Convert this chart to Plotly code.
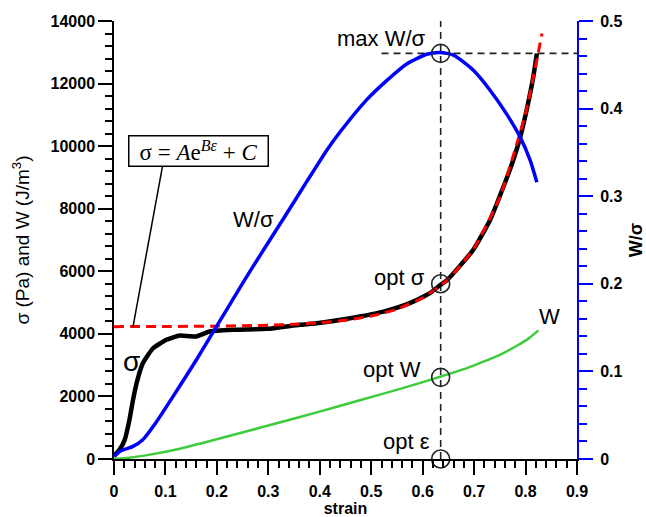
import plotly.graph_objects as go

# ---- data ----
strain_sigma = [0.0, 0.011, 0.021, 0.030, 0.037, 0.044, 0.056, 0.076, 0.102, 0.128, 0.147, 0.160,
                0.186, 0.232, 0.297, 0.361, 0.394, 0.459, 0.524, 0.575, 0.614, 0.634, 0.647,
                0.698, 0.731, 0.757, 0.776, 0.789, 0.802, 0.815, 0.822]
sigma = [100, 300, 620, 1250, 1890, 2430, 3060, 3540, 3810, 3950, 3925, 3915,
         4075, 4130, 4160, 4290, 4340, 4500, 4710, 4980, 5300, 5560, 5710,
         6680, 7640, 8700, 9550, 10250, 11150, 12210, 12960]

strain_fit = [0.0, 0.1, 0.2, 0.3, 0.35, 0.4, 0.45, 0.5, 0.55, 0.6, 0.65, 0.7, 0.75, 0.8, 0.832]
sigma_fit = [4230, 4236, 4247, 4276, 4305, 4355, 4436, 4570, 4790, 5150, 5750, 6740, 8370, 11050, 13600]

strain_ws = [0.0, 0.012, 0.037, 0.056, 0.082, 0.121, 0.160, 0.199, 0.232, 0.264, 0.329, 0.374,
             0.413, 0.439, 0.491, 0.530, 0.569, 0.608, 0.634, 0.660, 0.698, 0.731, 0.763,
             0.789, 0.809, 0.822]
w_over_sigma = [0.003, 0.009, 0.0144, 0.022, 0.042, 0.077, 0.113, 0.151, 0.183, 0.214, 0.274, 0.316,
                0.352, 0.373, 0.410, 0.432, 0.451, 0.462, 0.464, 0.461, 0.444, 0.421, 0.394,
                0.368, 0.341, 0.316]

strain_w = [0.0, 0.03, 0.07, 0.128, 0.167, 0.264, 0.329, 0.394, 0.459, 0.524, 0.589, 0.634,
            0.686, 0.718, 0.75, 0.783, 0.805, 0.825]
work = [0, 40, 140, 330, 490, 910, 1200, 1490, 1790, 2090, 2400, 2630,
        2905, 3110, 3330, 3620, 3840, 4110]

opt_strain = 0.635
opt_sigma = 5600
opt_w = 2610
max_ws = 0.463

x_ticks = [0, 0.1, 0.2, 0.3, 0.4, 0.5, 0.6, 0.7, 0.8, 0.9]
y_ticks = [0, 2000, 4000, 6000, 8000, 10000, 12000, 14000]
y2_ticks = [0, 0.1, 0.2, 0.3, 0.4, 0.5]

FONT = "Arial, Liberation Sans, sans-serif"
SERIF = "Times New Roman, Liberation Serif, serif"
DASH_COL = "#222222"

fig = go.Figure()

fig.add_trace(go.Scatter(x=strain_sigma, y=sigma, mode="lines",
                         line=dict(color="black", width=4.5, shape="spline", smoothing=0.5),
                         showlegend=False))
fig.add_trace(go.Scatter(x=strain_fit, y=sigma_fit, mode="lines",
                         line=dict(color="#ff0000", width=3, dash="10px,6px", shape="spline", smoothing=0.5),
                         showlegend=False))
fig.add_trace(go.Scatter(x=strain_w, y=work, mode="lines",
                         line=dict(color="#3ccc3c", width=2.5, shape="spline", smoothing=0.6),
                         showlegend=False))
fig.add_trace(go.Scatter(x=strain_ws, y=w_over_sigma, mode="lines", yaxis="y2",
                         line=dict(color="#0000ff", width=3.5, shape="spline", smoothing=0.6),
                         showlegend=False))

marker_style = dict(symbol="circle-open", size=18, color=DASH_COL, line=dict(width=1.6, color=DASH_COL))
fig.add_trace(go.Scatter(x=[opt_strain, opt_strain, opt_strain], y=[opt_sigma, opt_w, 0],
                         mode="markers", marker=marker_style, cliponaxis=False, showlegend=False))
fig.add_trace(go.Scatter(x=[opt_strain], y=[max_ws], yaxis="y2",
                         mode="markers", marker=marker_style, cliponaxis=False, showlegend=False))

# dashed guide lines
fig.add_shape(type="line", xref="x", yref="y", x0=opt_strain, x1=opt_strain, y0=0, y1=14000,
              line=dict(color=DASH_COL, width=1.6, dash="7px,5px"), layer="below")
fig.add_shape(type="line", xref="x", yref="y2", x0=0.52, x1=0.9, y0=max_ws, y1=max_ws,
              line=dict(color=DASH_COL, width=1.6, dash="7px,5px"), layer="below")
# leader line from formula box
fig.add_shape(type="line", xref="x", yref="y", x0=0.0947, y0=9393, x1=0.037, y1=4230,
              line=dict(color="black", width=1.5))

def label(text, x, y, size=22, xanchor="center", yref="y", font=FONT):
    fig.add_annotation(text=text, x=x, y=y, xref="x", yref=yref, showarrow=False,
                       xanchor=xanchor, yanchor="middle",
                       font=dict(family=font, size=size, color="black"))

label("max W/σ", 0.520, 13440)
label("opt σ", 0.608, 5787, xanchor="right")
label("opt W", 0.6006, 2850, xanchor="right")
label("opt ε", 0.6175, 562, xanchor="right")
label("W", 0.8457, 4551)
label("W/σ", 0.272, 7650)
label("σ", 0.0344, 3120, size=28)

fig.add_annotation(text="σ = <i>A</i>e<sup><i>Bε</i></sup> + <i>C</i>",
                   x=0.1634, y=9856, xref="x", yref="y", showarrow=False,
                   xanchor="center", yanchor="middle",
                   font=dict(family=SERIF, size=23, color="black"),
                   bordercolor="black", borderwidth=1.5, borderpad=2, bgcolor="white",
                   width=134, height=25)

tickfont = dict(family=FONT, size=16, color="black", weight="bold")
common = dict(showgrid=False, zeroline=False, showline=True, ticks="outside", automargin=False,
              ticklen=14, tickwidth=1.5, tickfont=tickfont)

fig.update_layout(
    width=646, height=517,
    margin=dict(l=114, r=69, t=21, b=58, pad=0),
    paper_bgcolor="white", plot_bgcolor="white",
    xaxis=dict(range=[0, 0.9], tickvals=x_ticks, ticktext=[str(v) if v else "0" for v in x_ticks],
               linecolor="black", linewidth=1.5, tickcolor="black", ticklabelstandoff=3,
               minor=dict(dtick=0.02, tick0=0, ticklen=7, tickwidth=1.5, tickcolor="black", ticks="outside"),
               title=dict(text="strain", font=dict(family=FONT, size=16, color="black", weight="bold"), standoff=0),
               **common),
    yaxis=dict(range=[0, 14000], tickvals=y_ticks, ticktext=[str(v) for v in y_ticks],
               linecolor="black", linewidth=1.5, tickcolor="black",
               minor=dict(dtick=400, tick0=0, ticklen=7, tickwidth=1.5, tickcolor="black", ticks="outside"),
               title=dict(text="σ (Pa) and W (J/m<sup>3</sup>)", font=dict(family=FONT, size=19, color="black"), standoff=16),
               **common),
    yaxis2=dict(range=[0, 0.5], overlaying="y", side="right", anchor="x",
                tickvals=y2_ticks, ticktext=[str(v) if v else "0" for v in y2_ticks],
                linecolor="#0000ff", linewidth=2, tickcolor="#0000ff", ticklabelstandoff=4,
                minor=dict(dtick=0.02, tick0=0, ticklen=8, tickwidth=1.5, tickcolor="#0000ff", ticks="outside"),
                title=dict(text="W/σ", font=dict(family=FONT, size=18, color="black", weight="bold"), standoff=8),
                **common),
)

fig.write_html("out.html")
